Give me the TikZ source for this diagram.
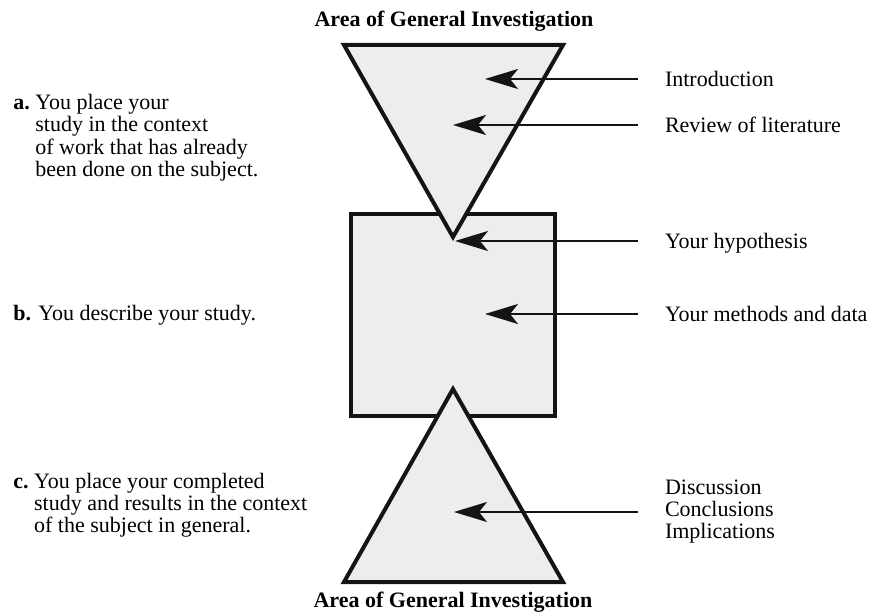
\documentclass[tikz,border=0pt]{standalone}
\usepackage{fontspec}
\setmainfont{Liberation Serif}
\usetikzlibrary{arrows.meta, positioning}
\definecolor{panelgray}{RGB}{237,237,237}
\definecolor{inkblack}{RGB}{20,20,20}

\begin{document}
\begin{tikzpicture}[x=0.5pt, y=-0.5pt, font=\fontsize{11}{11}\selectfont]

    % Styles for the outlined shapes, the pointers and the labels
    \tikzset{
        outline/.style={draw=inkblack, line width=2pt, fill=panelgray},
        pointer/.style={draw=inkblack, line width=1.1pt,
            -{Stealth[length=16.5pt, width=10pt, inset=4pt]}},
        sidelabel/.style={anchor=west, inner sep=0pt, outer xsep=13.5pt,
            text height=7.3pt, text depth=0pt},
        notetext/.style={anchor=base west, inner sep=0pt},
        areatitle/.style={anchor=base, inner sep=0pt, font=\fontsize{11}{11}\selectfont\bfseries}
    }
    \useasboundingbox (0,0) rectangle (876,614);

    % ==========================================
    % Shapes: funnel, study box, widening triangle
    % ==========================================
    \node[outline, minimum width=102pt, minimum height=101pt, inner sep=0pt] (study) at (453,315) {};
    \draw[outline] (344,45) -- (563,45) -- (453,237) -- cycle;
    \draw[outline] (453,389) -- (563,582) -- (344,582) -- cycle;

    % Titles
    \node[areatitle] (top-title) at (454,27) {Area of General Investigation};
    \node[areatitle] (bottom-title) at (453,607) {Area of General Investigation};

    % ==========================================
    % Right side: section labels and pointers
    % ==========================================
    \coordinate (intro-tip) at (485,79);
    \coordinate (lit-tip) at (453,125);
    \coordinate (hyp-tip) at (455,241);
    \coordinate (methods-tip) at (485,314);
    \coordinate (disc-tip) at (454,512);

    \node[sidelabel] (intro) at (638,79) {Introduction};
    \node[sidelabel] (lit) at (638,125) {Review of literature};
    \node[sidelabel] (hyp) at (638,241) {Your hypothesis};
    \node[sidelabel] (methods) at (638,314) {Your methods and data};
    \node[anchor=west, inner sep=0pt, outer xsep=13.5pt, align=left] (disc) at (638,512)
        {Discussion\\Conclusions\\Implications};

    \draw[pointer] (intro.west) -- (intro-tip);
    \draw[pointer] (lit.west) -- (lit-tip);
    \draw[pointer] (hyp.west) -- (hyp-tip);
    \draw[pointer] (methods.west) -- (methods-tip);
    \draw[pointer] (disc.west) -- (disc-tip);

    % ==========================================
    % Left side: notes a, b, c
    % ==========================================
    \node[notetext] (note-a) at (13,110) {\textbf{a.}\ \begin{tabular}[t]{@{}l@{}}You place your\\
        study in the context\\ of work that has already\\ been done on the subject.\end{tabular}};
    \node[notetext] (note-b) at (13,320) {\textbf{b.} You describe your study.};
    \node[notetext] (note-c) at (13,488) {\textbf{c.}\ \begin{tabular}[t]{@{}l@{}}You place your completed\\
        study and results in the context\\ of the subject in general.\end{tabular}};

\end{tikzpicture}
\end{document}
